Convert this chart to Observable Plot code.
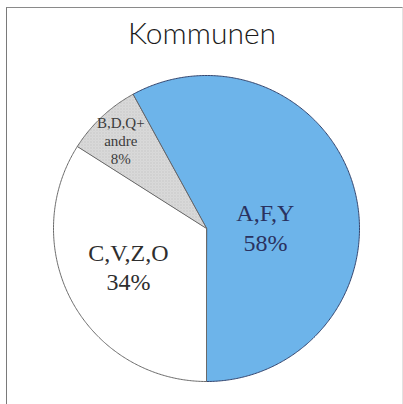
<!DOCTYPE html>
<html>
<head>
<meta charset="utf-8">
<script src="https://cdn.jsdelivr.net/npm/d3@7"></script>
<script src="https://cdn.jsdelivr.net/npm/@observablehq/plot@0.6"></script>
<style>
  html, body { margin: 0; padding: 0; background: #fff; }
  #wrap { position: relative; width: 403px; height: 404px; overflow: hidden; }
  #border { position: absolute; left: 6px; top: 7px; width: 395px; height: 400px;
    border-top: 1.5px solid #8a8a8a; border-left: 1.5px solid #7a7a7a; border-right: 1px solid #e2e2e2; }
  #chart { position: absolute; left: 0; top: 0; }
</style>
</head>
<body>
<div id="wrap"><div id="border"></div><div id="chart"></div></div>
<script>
// Data
const title = "Kommunen";
const categories = ["A,F,Y", "C,V,Z,O", "B,D,Q+ andre"];
const shares = [58, 34, 8];
const labelLines = [["A,F,Y", "58%"], ["C,V,Z,O", "34%"], ["B,D,Q+", "andre", "8%"]];

// Styling / layout (not data)
const fills = ["#6db4ea", "#ffffff", "url(#stipple)"];
const strokes = ["#34456e", "#6a6a6a", "#6a6a6a"];
const textColors = ["#2a3260", "#2e2e2e", "#3c3c3c"];
const fontSizes = [24, 24, 15];
const lineHeights = [30, 29, 18];
const labelAnchors = [[0.385, 0.0], [-0.51, -0.26], [-0.56, 0.57]]; // unit-circle coords

const pie = d3.pie().sort(null).value(d => d.value)
  .startAngle(Math.PI - 2 * Math.PI * shares[0] / 100)
  .endAngle(3 * Math.PI - 2 * Math.PI * shares[0] / 100);
const table = categories.map((c, i) => ({ name: c, value: shares[i], i }));
const arcs = pie(table);

function slicePoints(a) {
  const pts = [{ x: 0, y: 0 }];
  const n = Math.max(2, Math.ceil((a.endAngle - a.startAngle) / 0.01));
  for (let k = 0; k <= n; k++) {
    const t = a.startAngle + (a.endAngle - a.startAngle) * k / n;
    pts.push({ x: Math.sin(t), y: Math.cos(t) });
  }
  return pts;
}

const labelRows = [];
arcs.forEach((a, i) => {
  const lines = labelLines[i];
  const lh = lineHeights[i];
  lines.forEach((t, j) => {
    labelRows.push({
      text: t, x: labelAnchors[i][0], y: labelAnchors[i][1],
      dy: (j - (lines.length - 1) / 2) * lh, i
    });
  });
});

const cx = 206, cy = 228, R = 153;
const marks = arcs.map((a, i) => Plot.line(slicePoints(a), {
  x: "x", y: "y", curve: "linear-closed",
  fill: fills[i], stroke: strokes[i], strokeWidth: 1
}));
for (let i = 0; i < 3; i++) {
  const rows = labelRows.filter(r => r.i === i);
  rows.forEach(r => {
    marks.push(Plot.text([r], {
      x: "x", y: "y", text: "text", dy: r.dy,
      fill: textColors[i], fontSize: fontSizes[i],
      fontFamily: "'Liberation Serif', 'DejaVu Serif', serif"
    }));
  });
}
marks.push(Plot.text([title], {
  frameAnchor: "top", dy: 22, text: d => d,
  fontSize: 30, fontFamily: "Lato, sans-serif", fontWeight: 300, fill: "#1a1a1a"
}));

const svg = Plot.plot({
  width: 403, height: 404, margin: 0,
  x: { domain: [-1, 1], range: [cx - R, cx + R], axis: null },
  y: { domain: [-1, 1], range: [cy + R, cy - R], axis: null },
  style: { background: "transparent", overflow: "visible" },
  marks
});

// stipple pattern for the small slice
const ns = "http://www.w3.org/2000/svg";
const defs = document.createElementNS(ns, "defs");
defs.innerHTML = `<pattern id="stipple" width="3" height="3" patternUnits="userSpaceOnUse">
  <rect width="3" height="3" fill="#dcdcdc"/>
  <rect x="0" y="0" width="1" height="1" fill="#b4b4b4"/>
  <rect x="1.5" y="1.5" width="1" height="1" fill="#c4c4c4"/>
</pattern>`;
svg.insertBefore(defs, svg.firstChild);
document.getElementById("chart").appendChild(svg);
</script>
</body>
</html>
